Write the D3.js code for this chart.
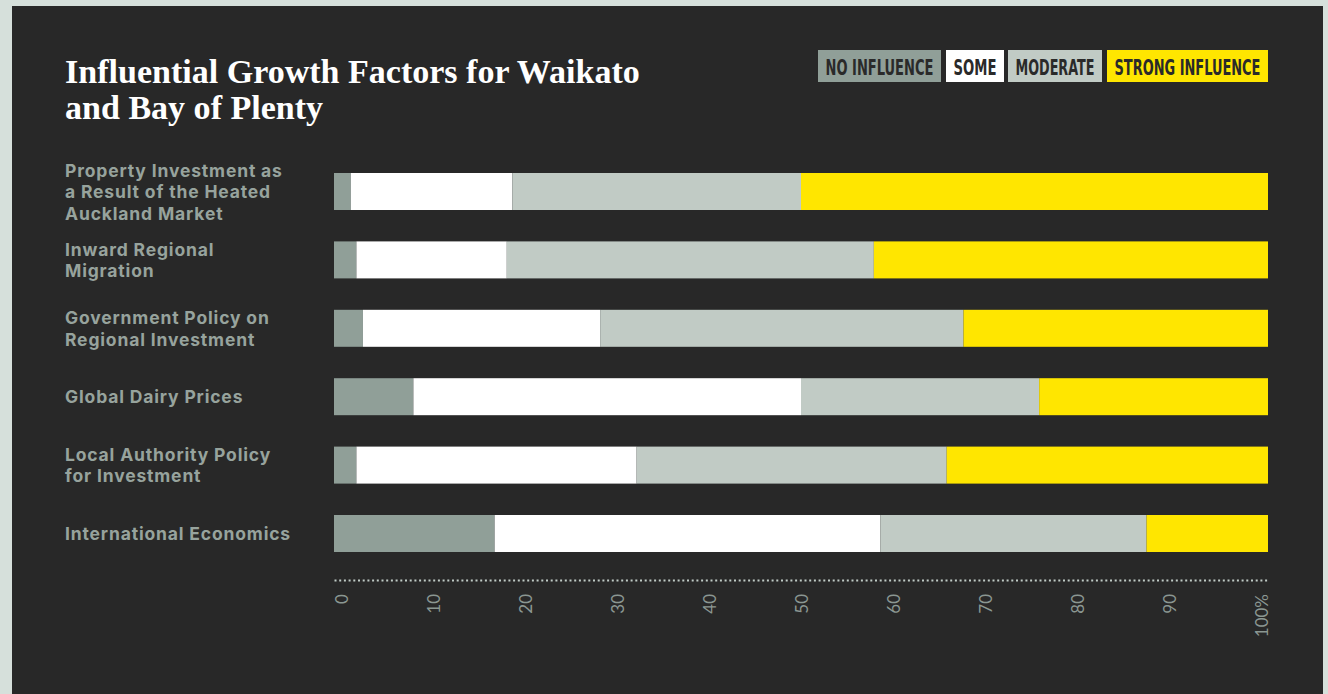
<!DOCTYPE html>
<html>
<head>
<meta charset="utf-8">
<script src="https://cdn.jsdelivr.net/npm/d3@7"></script>
<style>
  html, body { margin: 0; padding: 0; background: #d6e0db; }
  svg { display: block; }
</style>
</head>
<body>
<svg id="chart" width="1328" height="694"></svg>
<script>
// Survey responses: share of respondents (%) per level of influence
const factors = [
  ["Property Investment as", "a Result of the Heated", "Auckland Market"],
  ["Inward Regional", "Migration"],
  ["Government Policy on", "Regional Investment"],
  ["Global Dairy Prices"],
  ["Local Authority Policy", "for Investment"],
  ["International Economics"]
];
const levels = ["NO INFLUENCE", "SOME", "MODERATE", "STRONG INFLUENCE"];
const noInfluence = [1.8, 2.4, 3.1, 8.5, 2.4, 17.2];
const some        = [17.3, 16.1, 25.4, 41.5, 30.0, 41.3];
const moderate    = [30.9, 39.3, 38.9, 25.5, 33.2, 28.5];
const strong      = [50.0, 42.2, 32.6, 24.5, 34.4, 13.0];
const tickValues  = [0, 10, 20, 30, 40, 50, 60, 70, 80, 90, 100];

const colors = ["#909f98", "#ffffff", "#c1cbc5", "#ffe600"];
const series = [noInfluence, some, moderate, strong];

const svg = d3.select("#chart");

// dark panel
svg.append("rect")
  .attr("x", 12).attr("y", 6)
  .attr("width", 1311).attr("height", 700)
  .attr("fill", "#282828");

// title
const title = svg.append("text")
  .attr("font-family", "'Liberation Serif', 'DejaVu Serif', serif")
  .attr("font-weight", 700)
  .attr("font-size", 30)
  .attr("fill", "#ffffff");
title.append("tspan").attr("x", 65).attr("y", 83).text("Influential Growth Factors for Waikato");
title.append("tspan").attr("x", 65).attr("y", 119).text("and Bay of Plenty");
{
  const w = title.select("tspan").node().getComputedTextLength();
  title.attr("font-size", 30 * 575 / w);
}

// legend: condensed caps squeezed horizontally into each swatch
const legendBoxes = [[818, 941], [946, 1004], [1008, 1102], [1107, 1268]];
const legend = svg.append("g");
levels.forEach((lv, i) => {
  const [x0, x1] = legendBoxes[i];
  legend.append("rect")
    .attr("x", x0).attr("y", 50)
    .attr("width", x1 - x0).attr("height", 32)
    .attr("fill", colors[i]);
  const t = legend.append("text")
    .attr("font-family", "'DejaVu Sans Condensed', 'DejaVu Sans', sans-serif")
    .attr("font-weight", 700)
    .attr("font-size", 21)
    .attr("fill", "#2a2a2a")
    .text(lv);
  const w = t.node().getComputedTextLength();
  const sx = (x1 - x0 - 15) / w;
  t.attr("transform", `translate(${x0 + 7.5},74.5) scale(${sx},1)`);
});

// scales
const x = d3.scaleLinear().domain([0, 100]).range([334, 1268]);
const y = d3.scaleBand()
  .domain(d3.range(factors.length))
  .range([173, 552])
  .paddingInner(0.459)
  .paddingOuter(0);

// stacked bars
const rows = factors.map((f, i) => {
  const r = { index: i };
  levels.forEach((lv, k) => { r[lv] = series[k][i]; });
  return r;
});
const stack = d3.stack().keys(levels)(rows);

svg.append("g")
  .selectAll("g")
  .data(stack)
  .join("g")
  .attr("fill", (d, k) => colors[k])
  .selectAll("rect")
  .data(d => d)
  .join("rect")
  .attr("x", d => x(d[0]))
  .attr("y", d => y(d.data.index))
  .attr("width", d => x(d[1]) - x(d[0]))
  .attr("height", y.bandwidth());

// category labels, vertically centred on each bar
const lineH = 21.5;
const labels = svg.append("g")
  .attr("font-family", "Inter, 'Noto Sans', sans-serif")
  .attr("font-weight", 700)
  .attr("font-size", 17.5)
  .attr("fill", "#97a39d");
factors.forEach((lines, i) => {
  const cy = y(i) + y.bandwidth() / 2;
  const t = labels.append("text");
  lines.forEach((ln, j) => {
    t.append("tspan")
      .attr("x", 65)
      .attr("y", cy + 6.5 + (j - (lines.length - 1) / 2) * lineH)
      .text(ln);
  });
});
// open up the tracking so the longest label spans its full width
{
  const probe = labels.selectAll("tspan").filter(function () {
    return this.textContent === "International Economics";
  }).node();
  const w = probe.getComputedTextLength();
  const n = probe.textContent.length;
  labels.attr("letter-spacing", Math.max(0, (226 - w) / n));
}

// x axis; rotated labels are spread so the first and last sit inside the track
const labelX = d3.scaleLinear().domain([0, 100]).range([341, 1261]);
const axis = d3.axisBottom(x)
  .tickValues(tickValues)
  .tickSize(0)
  .tickFormat(d => d === 100 ? "100%" : d);
const ax = svg.append("g")
  .attr("transform", "translate(0,580)")
  .call(axis);
ax.select(".domain")
  .attr("stroke", "#c0cbc6")
  .attr("stroke-width", 2)
  .attr("stroke-dasharray", "2,2.7");
ax.selectAll(".tick text")
  .attr("transform", "rotate(-90)")
  .attr("x", -14)
  .attr("y", d => labelX(d) - x(d) + 6)
  .attr("dy", 0)
  .attr("text-anchor", "end")
  .attr("font-family", "Lato, 'DejaVu Sans', sans-serif")
  .attr("font-weight", 400)
  .attr("font-size", 17)
  .attr("fill", "#8b9792");
</script>
</body>
</html>
